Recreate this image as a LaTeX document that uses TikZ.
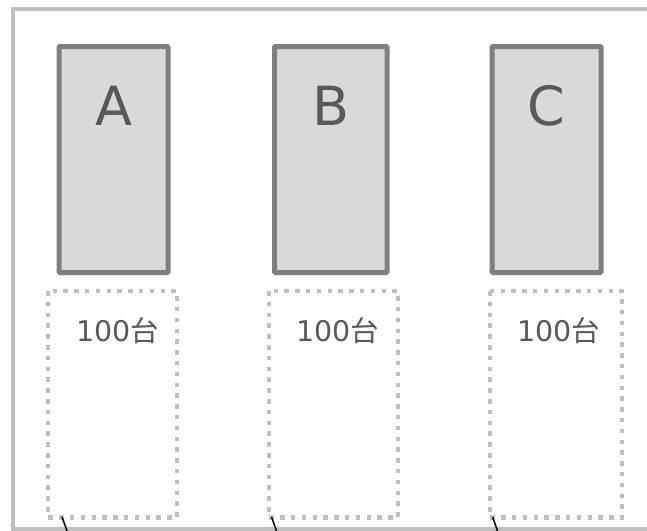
\documentclass[tikz,border=0pt]{standalone}
\usepackage{fontspec}
\setmainfont{DejaVu Sans}
\newfontfamily\cjk{Noto Sans CJK JP}
\definecolor{framegray}{HTML}{BFBFBF}
\definecolor{boxline}{HTML}{7F7F7F}
\definecolor{boxfill}{HTML}{D9D9D9}
\definecolor{txtgray}{HTML}{595959}
\definecolor{dotgray}{HTML}{BFBFBF}
\tikzset{
  lettbox/.style={draw=boxline, fill=boxfill, line width=5pt, rounded corners=1pt},
  dotbox/.style={draw=dotgray, line width=4.5pt, dash pattern=on 4.5pt off 6.3pt},
  lettr/.style={text=txtgray, font=\fontsize{54}{54}\selectfont, inner sep=0pt},
  cnt/.style={text=txtgray, font=\fontsize{28.5}{28.5}\selectfont, inner sep=0pt},
  wire/.style={draw=black, line width=1.5pt}
}
\begin{document}
\begin{tikzpicture}[x=1pt,y=-1pt]
\useasboundingbox (0,0) rectangle (647,530);
\clip (0,0) rectangle (647,530);
% outer frame
\draw[framegray, line width=4pt] (12.5,8.5) rectangle (700,528.5);
% letter boxes
\foreach \n/\xa/\xb/\l in {A/59/168/A, B/274.5/387/B, C/492/601/C}{
  \draw[lettbox] (\xa,46.5) rectangle (\xb,272.5);
  \node[lettr] (lab\n) at ({(\xa+\xb)/2},106) {\l};
}
% dotted boxes
\foreach \n/\xa/\xb/\tx in {A/48/177/118, B/269/398/338, C/490/622/559}{
  \draw[dotbox] (\xa,291) rectangle (\xb,517.5);
  \node[cnt] (cnt\n) at (\tx,331) {100{\cjk 台}};
}
% connector stubs
\coordinate (sa) at (62,517);  \coordinate (ea) at (67.5,532);
\coordinate (sb) at (271.5,517); \coordinate (eb) at (277,532);
\coordinate (sc) at (492.5,517); \coordinate (ec) at (498,532);
\draw[wire] (sa) -- (ea);
\draw[wire] (sb) -- (eb);
\draw[wire] (sc) -- (ec);
\end{tikzpicture}
\end{document}
